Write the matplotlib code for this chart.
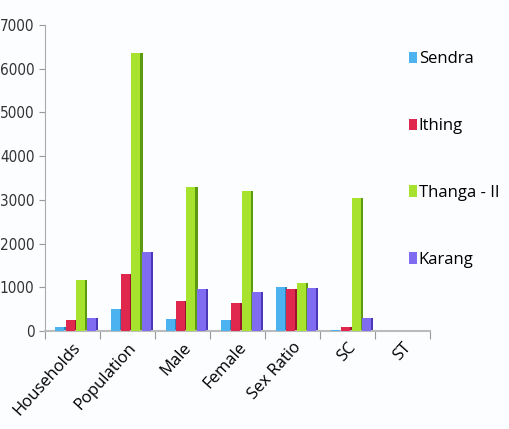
import numpy as np
import matplotlib
matplotlib.use('Agg')
import matplotlib.pyplot as plt
from matplotlib.patches import Patch

categories = ['Households', 'Population', 'Male', 'Female', 'Sex Ratio', 'SC', 'ST']
sendra = [100, 500, 270, 260, 1020, 30, 10]
ithing = [250, 1300, 700, 640, 960, 100, 10]
thanga = [1180, 6350, 3300, 3200, 1090, 3050, 10]
karang = [300, 1800, 970, 900, 990, 300, 10]

series = [('Sendra', sendra, '#4db3f0', '#2b7fb8'),
          ('Ithing', ithing, '#e0284f', '#9c1030'),
          ('Thanga - II', thanga, '#a6e22e', '#5c9a10'),
          ('Karang', karang, '#7f6cf0', '#4a38b8')]

fig = plt.figure(figsize=(5.09, 4.29), dpi=100, facecolor='#fbfdfe')
ax = fig.add_axes([0.088, 0.228, 0.757, 0.714])
ax.set_facecolor('#fbfdfe')

x = np.arange(len(categories))
w = 0.19
for i, (name, vals, col, dark) in enumerate(series):
    pos = x - 0.205 + i * w
    # darker side face to fake the 3D look (slight overlap avoids pixel gaps)
    ax.bar(pos + w * 0.4, vals, w * 0.26, color=dark, linewidth=0, zorder=2)
    ax.bar(pos - w * 0.1, vals, w * 0.86, color=col, linewidth=0, zorder=3)

ax.set_xlim(-0.5, len(categories) - 0.5)
ax.set_ylim(0, 7000)
ax.set_yticks(range(0, 7001, 1000))
ax.set_xticks(np.arange(-0.5, len(categories), 1.0), minor=False, labels=[''] * 8)
ax.set_xticks(x, minor=True)
ax.set_xticklabels(categories, minor=True, rotation=48, ha='right',
                   rotation_mode='anchor', fontsize=12, family='Open Sans')
ax.tick_params(axis='x', which='minor', length=0, pad=6)
ax.tick_params(axis='x', which='major', length=6, color='#999999')
ax.tick_params(axis='y', length=4, color='#999999', labelsize=11, labelcolor='#333333')
for lab in ax.get_yticklabels():
    lab.set_family('DejaVu Sans')
    lab.set_stretch('condensed')

for s in ['top', 'right']:
    ax.spines[s].set_visible(False)
ax.spines['left'].set_color('#aaaaaa')
ax.spines['bottom'].set_color('#bbbbbb')
ax.spines['bottom'].set_linewidth(1.5)

handles = [Patch(facecolor=c, label=n) for n, _, c, _ in series]
fig.legend(handles=handles, loc='upper left', bbox_to_anchor=(0.775, 0.915),
           frameon=False, handlelength=0.45, handleheight=0.7,
           handletextpad=0.1, labelspacing=3.05,
           prop={'family': 'Open Sans', 'size': 12})

fig.savefig('out.png', dpi=100, facecolor=fig.get_facecolor())
